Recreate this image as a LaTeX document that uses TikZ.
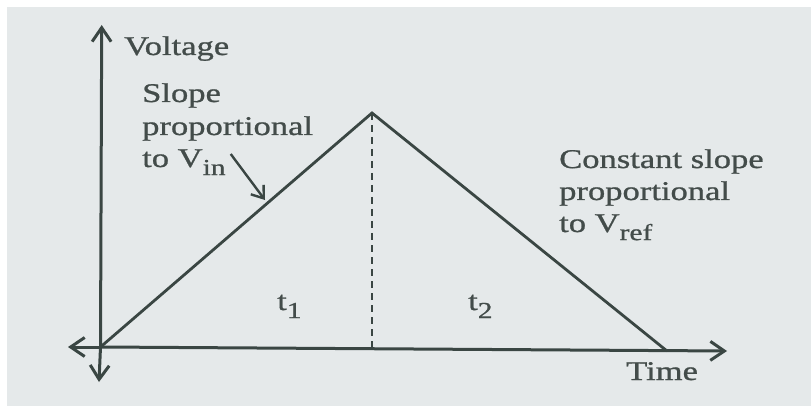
\documentclass[tikz,border=0pt]{standalone}
\usepackage{fontspec}
\setmainfont[FakeStretch=1.28,FakeBold=0.9]{Liberation Serif}
\usetikzlibrary{arrows.meta}
\definecolor{paper}{HTML}{E5E9EA}
\definecolor{ink}{HTML}{3A4643}
\definecolor{txt}{HTML}{434C4A}
\newcommand\lowsub[1]{\raisebox{-0.3em}{\fontsize{23}{23}\selectfont #1}}
\tikzset{
  axis/.style={draw=ink, line width=3pt, -{Straight Barb[length=14pt,width=19pt,line width=3pt]}},
  ramp/.style={draw=ink, line width=2.8pt, line join=miter},
  lbl/.style={anchor=base west, inner sep=0pt, text=txt, font=\fontsize{27}{27}\selectfont},
  pointer/.style={draw=ink, line width=2.4pt, -{Straight Barb[length=11pt,width=16pt,line width=2.4pt]}},
}
\begin{document}
\begin{tikzpicture}[x=1pt,y=-1pt]
\useasboundingbox (0,0) rectangle (811,406);
\fill[white] (0,0) rectangle (811,406);
\fill[paper] (7,7) rectangle (811,406);
% axis end points
\coordinate (O) at (100.5,347);
\coordinate (Ytop) at (101.7,25);
\coordinate (Ybot) at (99,382);
\coordinate (Xleft) at (68,347);
\coordinate (Xright) at (727,351);
\coordinate (peak) at (372,113);
\coordinate (foot) at (372,349);
\coordinate (end) at (667,351);
\coordinate (ptail) at (230.7,154);
\coordinate (phead) at (265,200);
% axes
\draw[axis] (O) -- (Ytop);
\draw[axis] (O) -- (Ybot);
\draw[axis] (O) -- (Xleft);
\draw[axis] (O) -- (Xright);
% ramp
\draw[ramp] (O) -- (peak) -- (end);
\draw[draw=ink, line width=2.2pt, dash pattern=on 7pt off 5pt] (peak) -- (foot);
\draw[pointer] (ptail) -- (phead);
% labels
\node[lbl] (volt) at (124,55) {Voltage};
\node[lbl] (s1) at (142,102) {Slope};
\node[lbl] (s2) at (142,135) {proportional};
\node[lbl] (s3) at (142,167) {to V\lowsub{in}};
\node[lbl] (c1) at (559,168) {Constant slope};
\node[lbl] (c2) at (559,200) {proportional};
\node[lbl] (c3) at (559,232) {to V\lowsub{ref}};
\node[lbl] (t1) at (277,310) {t\lowsub{1}};
\node[lbl] (t2) at (468,310) {t\lowsub{2}};
\node[lbl] (time) at (626,380) {Time};
\end{tikzpicture}
\end{document}
